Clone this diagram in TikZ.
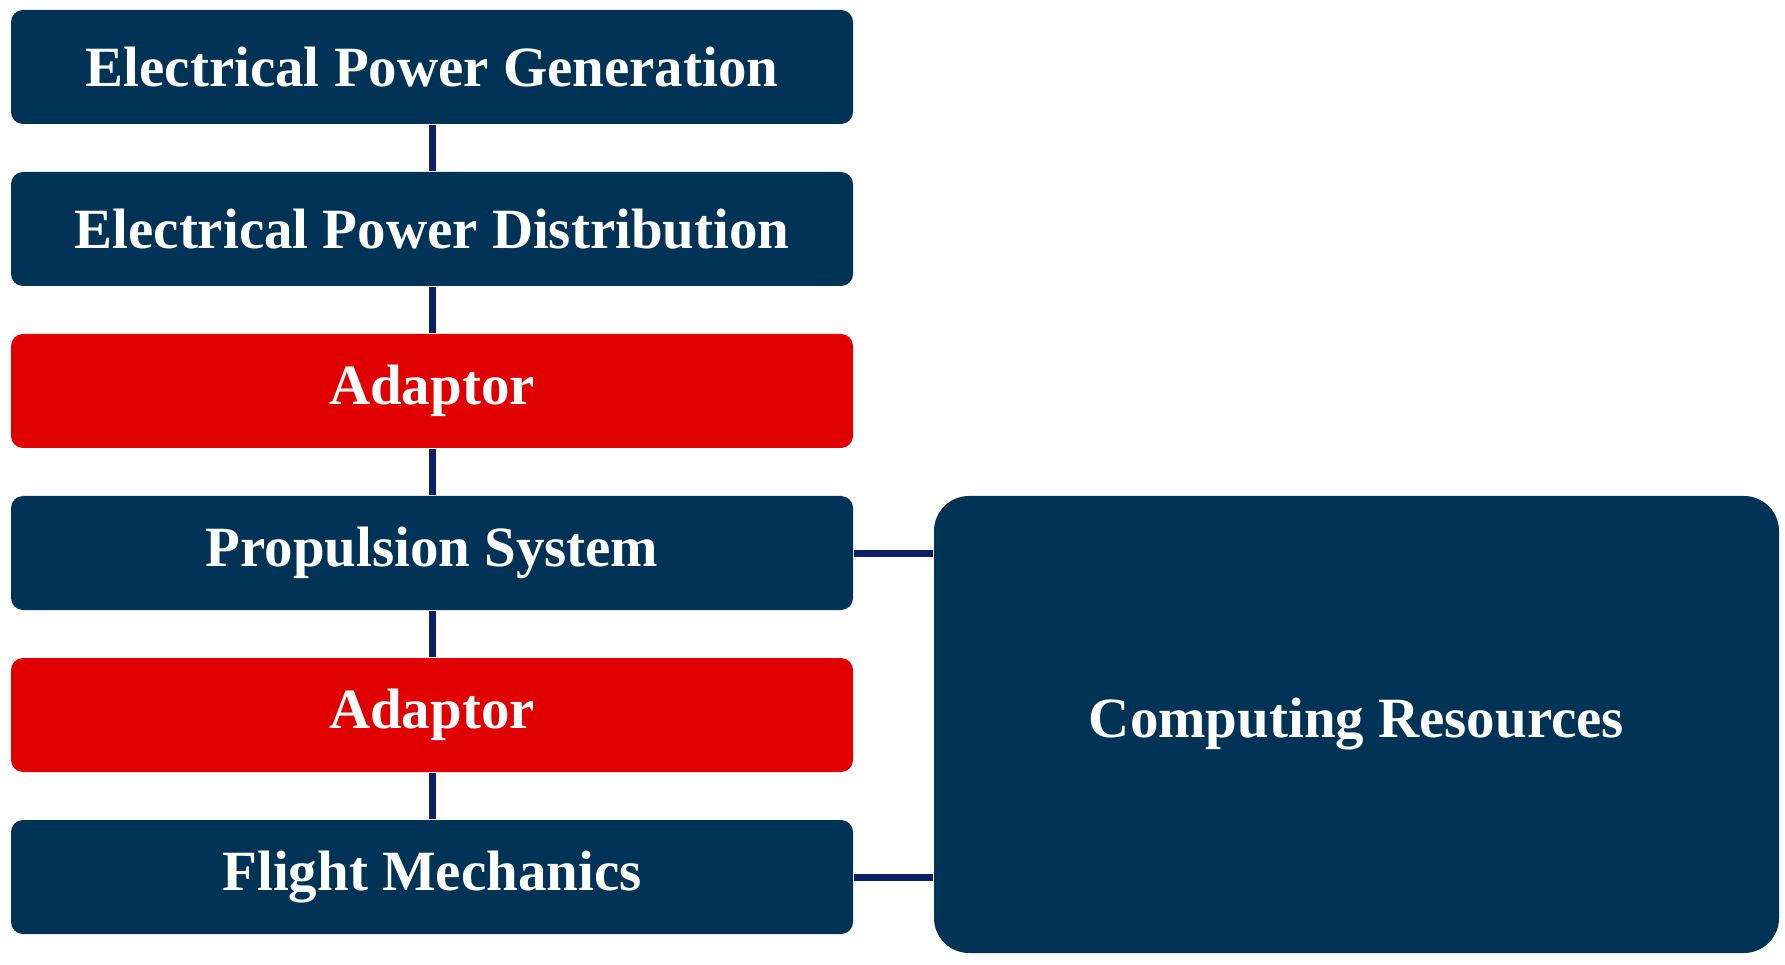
\documentclass[tikz,border=0pt]{standalone}
\usepackage{fontspec}
\setmainfont{Liberation Serif}
\definecolor{navy}{HTML}{003355}
\definecolor{adred}{HTML}{E00000}
\definecolor{wire}{HTML}{0C1F66}
\begin{document}
\begin{tikzpicture}[thick,
	block/.style={fill=navy, rounded corners=1.2mm, minimum width=8.42cm, minimum height=1.14cm, text=white, font=\fontsize{16.2}{18}\selectfont\bfseries, inner sep=0pt},
	adaptor/.style={block, fill=adred},
	big/.style={block, rounded corners=3.5mm, minimum width=8.45cm, minimum height=4.57cm}]
		\useasboundingbox (0,0) rectangle (17.85,-9.65);
		
		\node[block] (gen) at (4.32,-0.67) {Electrical Power Generation};
		\node[block] (dist) at (4.32,-2.29) {Electrical Power Distribution};
		\node[adaptor] (ad1) at (4.32,-3.91) {Adaptor};
		\node[block] (prop) at (4.32,-5.53) {Propulsion System};
		\node[adaptor] (ad2) at (4.32,-7.15) {Adaptor};
		\node[block] (flight) at (4.32,-8.77) {Flight Mechanics};
		
		\node[big] (comp) at (13.565,-7.245) {Computing Resources};
		
		\draw[wire, line width=.7mm] (gen) -- (dist);
		\draw[wire, line width=.7mm] (dist) -- (ad1);
		\draw[wire, line width=.7mm] (ad1) -- (prop);
		\draw[wire, line width=.7mm] (prop) -- (ad2);
		\draw[wire, line width=.7mm] (ad2) -- (flight);
		
		\draw[wire, line width=.7mm] (prop.east) -- (prop.east -| comp.west);
		\draw[wire, line width=.7mm] (flight.east) -- (flight.east -| comp.west);
		
	\end{tikzpicture}
\end{document}
